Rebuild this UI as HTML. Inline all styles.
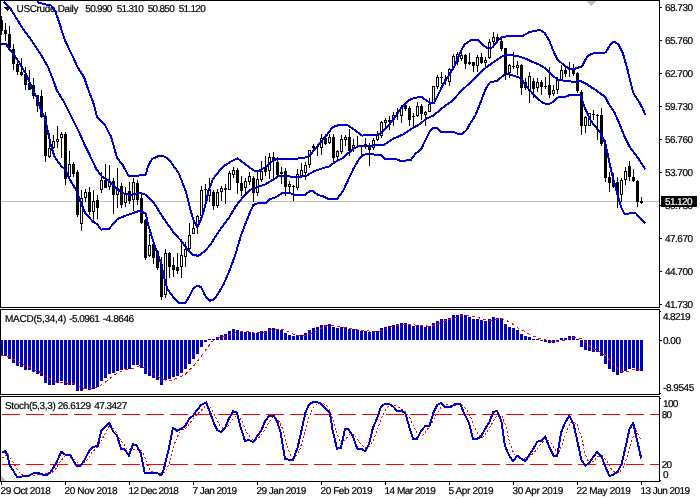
<!DOCTYPE html><html><head><meta charset="utf-8"><title>USCrude Daily</title>
<style>html,body{margin:0;padding:0;background:#fff}svg{display:block}text{font-family:"Liberation Sans",sans-serif;font-size:10px;fill:#000;stroke:#000;stroke-width:0.2px;text-rendering:geometricPrecision}</style></head><body>
<svg width="700" height="500" viewBox="0 0 700 500">
<rect width="700" height="500" fill="#fff"/>
<g shape-rendering="crispEdges">
<rect x="1" y="201" width="659" height="1" fill="#c0c0c0"/>
<polygon points="587,1 596,1 591.5,6" fill="#c0c0c0"/>
<polygon points="1,476 1,481 6,481" fill="#c0c0c0"/>
<rect x="1" y="16" width="1" height="19" fill="#000"/>
<rect x="0" y="20" width="3" height="11" fill="#000"/>
<rect x="5" y="23" width="1" height="18" fill="#000"/>
<rect x="4" y="30" width="3" height="4" fill="#000"/>
<rect x="9" y="26" width="1" height="24" fill="#000"/>
<rect x="8" y="34" width="3" height="14" fill="#000"/>
<rect x="13" y="44" width="1" height="26" fill="#000"/>
<rect x="12" y="49" width="3" height="15" fill="#000"/>
<rect x="17" y="60" width="1" height="15" fill="#000"/>
<rect x="16" y="64" width="3" height="8" fill="#000"/>
<rect x="21" y="58" width="1" height="18" fill="#000"/>
<rect x="20" y="72" width="3" height="3" fill="#000"/>
<rect x="25" y="67" width="1" height="23" fill="#000"/>
<rect x="24" y="74" width="3" height="11" fill="#000"/>
<rect x="29" y="70" width="1" height="20" fill="#000"/>
<rect x="28" y="83" width="3" height="7" fill="#000"/>
<rect x="33" y="78" width="1" height="21" fill="#000"/>
<rect x="32" y="85" width="3" height="11" fill="#000"/>
<rect x="37" y="95" width="1" height="17" fill="#000"/>
<rect x="36" y="95" width="3" height="11" fill="#000"/>
<rect x="41" y="90" width="1" height="28" fill="#000"/>
<rect x="40" y="96" width="3" height="21" fill="#000"/>
<rect x="45" y="112" width="1" height="50" fill="#000"/>
<rect x="44" y="116" width="3" height="40" fill="#000"/>
<rect x="49" y="133" width="1" height="25" fill="#000"/>
<rect x="48" y="148" width="3" height="9" fill="#000"/>
<rect x="49" y="149" width="1" height="7" fill="#fff"/>
<rect x="53" y="135" width="1" height="14" fill="#000"/>
<rect x="52" y="141" width="3" height="7" fill="#000"/>
<rect x="53" y="142" width="1" height="5" fill="#fff"/>
<rect x="57" y="126" width="1" height="22" fill="#000"/>
<rect x="56" y="139" width="3" height="3" fill="#000"/>
<rect x="57" y="140" width="1" height="1" fill="#fff"/>
<rect x="61" y="132" width="1" height="26" fill="#000"/>
<rect x="60" y="134" width="3" height="4" fill="#000"/>
<rect x="61" y="135" width="1" height="2" fill="#fff"/>
<rect x="65" y="132" width="1" height="53" fill="#000"/>
<rect x="64" y="134" width="3" height="45" fill="#000"/>
<rect x="69" y="151" width="1" height="28" fill="#000"/>
<rect x="68" y="164" width="3" height="13" fill="#000"/>
<rect x="69" y="165" width="1" height="11" fill="#fff"/>
<rect x="73" y="162" width="1" height="15" fill="#000"/>
<rect x="72" y="164" width="3" height="10" fill="#000"/>
<rect x="77" y="170" width="1" height="47" fill="#000"/>
<rect x="76" y="172" width="3" height="43" fill="#000"/>
<rect x="81" y="190" width="1" height="41" fill="#000"/>
<rect x="80" y="198" width="3" height="26" fill="#000"/>
<rect x="81" y="199" width="1" height="24" fill="#fff"/>
<rect x="85" y="189" width="1" height="13" fill="#000"/>
<rect x="84" y="192" width="3" height="6" fill="#000"/>
<rect x="85" y="193" width="1" height="4" fill="#fff"/>
<rect x="89" y="187" width="1" height="28" fill="#000"/>
<rect x="88" y="192" width="3" height="20" fill="#000"/>
<rect x="93" y="190" width="1" height="32" fill="#000"/>
<rect x="92" y="201" width="3" height="11" fill="#000"/>
<rect x="93" y="202" width="1" height="9" fill="#fff"/>
<rect x="97" y="195" width="1" height="24" fill="#000"/>
<rect x="96" y="200" width="3" height="8" fill="#000"/>
<rect x="101" y="172" width="1" height="21" fill="#000"/>
<rect x="100" y="180" width="3" height="10" fill="#000"/>
<rect x="101" y="181" width="1" height="8" fill="#fff"/>
<rect x="105" y="164" width="1" height="24" fill="#000"/>
<rect x="104" y="180" width="3" height="8" fill="#000"/>
<rect x="109" y="165" width="1" height="25" fill="#000"/>
<rect x="108" y="182" width="3" height="5" fill="#000"/>
<rect x="109" y="183" width="1" height="3" fill="#fff"/>
<rect x="113" y="178" width="1" height="36" fill="#000"/>
<rect x="112" y="181" width="3" height="14" fill="#000"/>
<rect x="117" y="168" width="1" height="40" fill="#000"/>
<rect x="116" y="190" width="3" height="5" fill="#000"/>
<rect x="117" y="191" width="1" height="3" fill="#fff"/>
<rect x="121" y="183" width="1" height="25" fill="#000"/>
<rect x="120" y="186" width="3" height="19" fill="#000"/>
<rect x="125" y="187" width="1" height="20" fill="#000"/>
<rect x="124" y="194" width="3" height="9" fill="#000"/>
<rect x="125" y="195" width="1" height="7" fill="#fff"/>
<rect x="129" y="182" width="1" height="22" fill="#000"/>
<rect x="128" y="191" width="3" height="10" fill="#000"/>
<rect x="133" y="178" width="1" height="33" fill="#000"/>
<rect x="132" y="182" width="3" height="18" fill="#000"/>
<rect x="133" y="183" width="1" height="16" fill="#fff"/>
<rect x="137" y="180" width="1" height="25" fill="#000"/>
<rect x="136" y="183" width="3" height="17" fill="#000"/>
<rect x="141" y="195" width="1" height="29" fill="#000"/>
<rect x="140" y="198" width="3" height="25" fill="#000"/>
<rect x="145" y="219" width="1" height="41" fill="#000"/>
<rect x="144" y="220" width="3" height="38" fill="#000"/>
<rect x="149" y="234" width="1" height="23" fill="#000"/>
<rect x="148" y="245" width="3" height="11" fill="#000"/>
<rect x="149" y="246" width="1" height="9" fill="#fff"/>
<rect x="153" y="243" width="1" height="21" fill="#000"/>
<rect x="152" y="244" width="3" height="14" fill="#000"/>
<rect x="157" y="250" width="1" height="20" fill="#000"/>
<rect x="156" y="251" width="3" height="17" fill="#000"/>
<rect x="161" y="257" width="1" height="43" fill="#000"/>
<rect x="160" y="264" width="3" height="33" fill="#000"/>
<rect x="165" y="249" width="1" height="49" fill="#000"/>
<rect x="164" y="253" width="3" height="42" fill="#000"/>
<rect x="165" y="254" width="1" height="40" fill="#fff"/>
<rect x="169" y="252" width="1" height="26" fill="#000"/>
<rect x="168" y="253" width="3" height="14" fill="#000"/>
<rect x="173" y="257" width="1" height="20" fill="#000"/>
<rect x="172" y="265" width="3" height="5" fill="#000"/>
<rect x="177" y="253" width="1" height="21" fill="#000"/>
<rect x="176" y="267" width="3" height="4" fill="#000"/>
<rect x="181" y="239" width="1" height="39" fill="#000"/>
<rect x="180" y="255" width="3" height="12" fill="#000"/>
<rect x="181" y="256" width="1" height="10" fill="#fff"/>
<rect x="185" y="242" width="1" height="25" fill="#000"/>
<rect x="184" y="249" width="3" height="8" fill="#000"/>
<rect x="185" y="250" width="1" height="6" fill="#fff"/>
<rect x="189" y="223" width="1" height="28" fill="#000"/>
<rect x="188" y="235" width="3" height="14" fill="#000"/>
<rect x="189" y="236" width="1" height="12" fill="#fff"/>
<rect x="193" y="218" width="1" height="16" fill="#000"/>
<rect x="192" y="228" width="3" height="6" fill="#000"/>
<rect x="193" y="229" width="1" height="4" fill="#fff"/>
<rect x="197" y="215" width="1" height="19" fill="#000"/>
<rect x="196" y="216" width="3" height="11" fill="#000"/>
<rect x="197" y="217" width="1" height="9" fill="#fff"/>
<rect x="201" y="186" width="1" height="30" fill="#000"/>
<rect x="200" y="190" width="3" height="26" fill="#000"/>
<rect x="201" y="191" width="1" height="24" fill="#fff"/>
<rect x="205" y="184" width="1" height="16" fill="#000"/>
<rect x="204" y="189" width="3" height="1" fill="#000"/>
<rect x="209" y="178" width="1" height="24" fill="#000"/>
<rect x="208" y="189" width="3" height="7" fill="#000"/>
<rect x="209" y="190" width="1" height="5" fill="#fff"/>
<rect x="213" y="190" width="1" height="20" fill="#000"/>
<rect x="212" y="192" width="3" height="14" fill="#000"/>
<rect x="217" y="189" width="1" height="19" fill="#000"/>
<rect x="216" y="192" width="3" height="14" fill="#000"/>
<rect x="217" y="193" width="1" height="12" fill="#fff"/>
<rect x="221" y="186" width="1" height="15" fill="#000"/>
<rect x="220" y="188" width="3" height="4" fill="#000"/>
<rect x="221" y="189" width="1" height="2" fill="#fff"/>
<rect x="225" y="184" width="1" height="20" fill="#000"/>
<rect x="224" y="188" width="3" height="2" fill="#000"/>
<rect x="229" y="171" width="1" height="19" fill="#000"/>
<rect x="228" y="173" width="3" height="17" fill="#000"/>
<rect x="229" y="174" width="1" height="15" fill="#fff"/>
<rect x="233" y="167" width="1" height="11" fill="#000"/>
<rect x="232" y="170" width="3" height="5" fill="#000"/>
<rect x="233" y="171" width="1" height="3" fill="#fff"/>
<rect x="237" y="168" width="1" height="26" fill="#000"/>
<rect x="236" y="170" width="3" height="13" fill="#000"/>
<rect x="241" y="176" width="1" height="20" fill="#000"/>
<rect x="240" y="183" width="3" height="8" fill="#000"/>
<rect x="245" y="178" width="1" height="15" fill="#000"/>
<rect x="244" y="181" width="3" height="7" fill="#000"/>
<rect x="245" y="182" width="1" height="5" fill="#fff"/>
<rect x="249" y="172" width="1" height="13" fill="#000"/>
<rect x="248" y="176" width="3" height="6" fill="#000"/>
<rect x="249" y="177" width="1" height="4" fill="#fff"/>
<rect x="253" y="176" width="1" height="26" fill="#000"/>
<rect x="252" y="178" width="3" height="15" fill="#000"/>
<rect x="257" y="172" width="1" height="24" fill="#000"/>
<rect x="256" y="179" width="3" height="14" fill="#000"/>
<rect x="257" y="180" width="1" height="12" fill="#fff"/>
<rect x="261" y="161" width="1" height="21" fill="#000"/>
<rect x="260" y="171" width="3" height="9" fill="#000"/>
<rect x="261" y="172" width="1" height="7" fill="#fff"/>
<rect x="265" y="156" width="1" height="20" fill="#000"/>
<rect x="264" y="168" width="3" height="4" fill="#000"/>
<rect x="269" y="153" width="1" height="26" fill="#000"/>
<rect x="268" y="157" width="3" height="14" fill="#000"/>
<rect x="269" y="158" width="1" height="12" fill="#fff"/>
<rect x="273" y="152" width="1" height="27" fill="#000"/>
<rect x="272" y="157" width="3" height="3" fill="#000"/>
<rect x="277" y="157" width="1" height="19" fill="#000"/>
<rect x="276" y="162" width="3" height="13" fill="#000"/>
<rect x="281" y="167" width="1" height="17" fill="#000"/>
<rect x="280" y="172" width="3" height="2" fill="#000"/>
<rect x="285" y="168" width="1" height="28" fill="#000"/>
<rect x="284" y="171" width="3" height="16" fill="#000"/>
<rect x="289" y="181" width="1" height="13" fill="#000"/>
<rect x="288" y="184" width="3" height="3" fill="#000"/>
<rect x="289" y="185" width="1" height="1" fill="#fff"/>
<rect x="293" y="185" width="1" height="16" fill="#000"/>
<rect x="292" y="186" width="3" height="1" fill="#000"/>
<rect x="297" y="169" width="1" height="21" fill="#000"/>
<rect x="296" y="174" width="3" height="14" fill="#000"/>
<rect x="297" y="175" width="1" height="12" fill="#fff"/>
<rect x="301" y="163" width="1" height="15" fill="#000"/>
<rect x="300" y="170" width="3" height="7" fill="#000"/>
<rect x="301" y="171" width="1" height="5" fill="#fff"/>
<rect x="305" y="162" width="1" height="18" fill="#000"/>
<rect x="304" y="165" width="3" height="8" fill="#000"/>
<rect x="305" y="166" width="1" height="6" fill="#fff"/>
<rect x="309" y="150" width="1" height="18" fill="#000"/>
<rect x="308" y="150" width="3" height="15" fill="#000"/>
<rect x="309" y="151" width="1" height="13" fill="#fff"/>
<rect x="313" y="144" width="1" height="7" fill="#000"/>
<rect x="312" y="146" width="3" height="2" fill="#000"/>
<rect x="317" y="145" width="1" height="11" fill="#000"/>
<rect x="316" y="146" width="3" height="1" fill="#000"/>
<rect x="321" y="134" width="1" height="21" fill="#000"/>
<rect x="320" y="138" width="3" height="10" fill="#000"/>
<rect x="321" y="139" width="1" height="8" fill="#fff"/>
<rect x="325" y="134" width="1" height="11" fill="#000"/>
<rect x="324" y="138" width="3" height="6" fill="#000"/>
<rect x="329" y="134" width="1" height="10" fill="#000"/>
<rect x="328" y="137" width="3" height="6" fill="#000"/>
<rect x="329" y="138" width="1" height="4" fill="#fff"/>
<rect x="333" y="134" width="1" height="28" fill="#000"/>
<rect x="332" y="137" width="3" height="21" fill="#000"/>
<rect x="337" y="150" width="1" height="10" fill="#000"/>
<rect x="336" y="151" width="3" height="6" fill="#000"/>
<rect x="337" y="152" width="1" height="4" fill="#fff"/>
<rect x="341" y="135" width="1" height="19" fill="#000"/>
<rect x="340" y="139" width="3" height="13" fill="#000"/>
<rect x="341" y="140" width="1" height="11" fill="#fff"/>
<rect x="345" y="135" width="1" height="11" fill="#000"/>
<rect x="344" y="137" width="3" height="3" fill="#000"/>
<rect x="345" y="138" width="1" height="1" fill="#fff"/>
<rect x="349" y="129" width="1" height="27" fill="#000"/>
<rect x="348" y="137" width="3" height="14" fill="#000"/>
<rect x="353" y="139" width="1" height="13" fill="#000"/>
<rect x="352" y="145" width="3" height="3" fill="#000"/>
<rect x="353" y="146" width="1" height="1" fill="#fff"/>
<rect x="357" y="136" width="1" height="11" fill="#000"/>
<rect x="356" y="146" width="3" height="1" fill="#000"/>
<rect x="361" y="145" width="1" height="11" fill="#000"/>
<rect x="360" y="146" width="3" height="1" fill="#000"/>
<rect x="365" y="138" width="1" height="11" fill="#000"/>
<rect x="364" y="144" width="3" height="3" fill="#000"/>
<rect x="365" y="145" width="1" height="1" fill="#fff"/>
<rect x="369" y="143" width="1" height="23" fill="#000"/>
<rect x="368" y="145" width="3" height="5" fill="#000"/>
<rect x="373" y="138" width="1" height="12" fill="#000"/>
<rect x="372" y="140" width="3" height="8" fill="#000"/>
<rect x="373" y="141" width="1" height="6" fill="#fff"/>
<rect x="377" y="131" width="1" height="10" fill="#000"/>
<rect x="376" y="135" width="3" height="5" fill="#000"/>
<rect x="377" y="136" width="1" height="3" fill="#fff"/>
<rect x="381" y="121" width="1" height="17" fill="#000"/>
<rect x="380" y="122" width="3" height="14" fill="#000"/>
<rect x="381" y="123" width="1" height="12" fill="#fff"/>
<rect x="385" y="118" width="1" height="9" fill="#000"/>
<rect x="384" y="120" width="3" height="3" fill="#000"/>
<rect x="385" y="121" width="1" height="1" fill="#fff"/>
<rect x="389" y="116" width="1" height="14" fill="#000"/>
<rect x="388" y="120" width="3" height="2" fill="#000"/>
<rect x="393" y="112" width="1" height="14" fill="#000"/>
<rect x="392" y="115" width="3" height="5" fill="#000"/>
<rect x="393" y="116" width="1" height="3" fill="#fff"/>
<rect x="397" y="108" width="1" height="12" fill="#000"/>
<rect x="396" y="112" width="3" height="2" fill="#000"/>
<rect x="401" y="105" width="1" height="18" fill="#000"/>
<rect x="400" y="108" width="3" height="8" fill="#000"/>
<rect x="401" y="109" width="1" height="6" fill="#fff"/>
<rect x="405" y="102" width="1" height="9" fill="#000"/>
<rect x="404" y="105" width="3" height="4" fill="#000"/>
<rect x="409" y="106" width="1" height="20" fill="#000"/>
<rect x="408" y="108" width="3" height="12" fill="#000"/>
<rect x="413" y="113" width="1" height="14" fill="#000"/>
<rect x="412" y="116" width="3" height="1" fill="#000"/>
<rect x="417" y="102" width="1" height="15" fill="#000"/>
<rect x="416" y="106" width="3" height="10" fill="#000"/>
<rect x="417" y="107" width="1" height="8" fill="#fff"/>
<rect x="421" y="104" width="1" height="16" fill="#000"/>
<rect x="420" y="106" width="3" height="8" fill="#000"/>
<rect x="425" y="111" width="1" height="15" fill="#000"/>
<rect x="424" y="112" width="3" height="3" fill="#000"/>
<rect x="425" y="113" width="1" height="1" fill="#fff"/>
<rect x="429" y="98" width="1" height="14" fill="#000"/>
<rect x="428" y="104" width="3" height="8" fill="#000"/>
<rect x="429" y="105" width="1" height="6" fill="#fff"/>
<rect x="433" y="86" width="1" height="17" fill="#000"/>
<rect x="432" y="86" width="3" height="17" fill="#000"/>
<rect x="433" y="87" width="1" height="15" fill="#fff"/>
<rect x="437" y="75" width="1" height="14" fill="#000"/>
<rect x="436" y="77" width="3" height="10" fill="#000"/>
<rect x="437" y="78" width="1" height="8" fill="#fff"/>
<rect x="441" y="72" width="1" height="12" fill="#000"/>
<rect x="440" y="77" width="3" height="1" fill="#000"/>
<rect x="445" y="75" width="1" height="10" fill="#000"/>
<rect x="444" y="79" width="3" height="1" fill="#000"/>
<rect x="449" y="68" width="1" height="18" fill="#000"/>
<rect x="448" y="69" width="3" height="13" fill="#000"/>
<rect x="449" y="70" width="1" height="11" fill="#fff"/>
<rect x="453" y="54" width="1" height="16" fill="#000"/>
<rect x="452" y="56" width="3" height="12" fill="#000"/>
<rect x="453" y="57" width="1" height="10" fill="#fff"/>
<rect x="457" y="52" width="1" height="13" fill="#000"/>
<rect x="456" y="54" width="3" height="8" fill="#000"/>
<rect x="457" y="55" width="1" height="6" fill="#fff"/>
<rect x="461" y="52" width="1" height="9" fill="#000"/>
<rect x="460" y="55" width="3" height="4" fill="#000"/>
<rect x="461" y="56" width="1" height="2" fill="#fff"/>
<rect x="465" y="54" width="1" height="15" fill="#000"/>
<rect x="464" y="55" width="3" height="9" fill="#000"/>
<rect x="469" y="53" width="1" height="12" fill="#000"/>
<rect x="468" y="62" width="3" height="2" fill="#000"/>
<rect x="473" y="62" width="1" height="10" fill="#000"/>
<rect x="472" y="62" width="3" height="4" fill="#000"/>
<rect x="477" y="55" width="1" height="17" fill="#000"/>
<rect x="476" y="57" width="3" height="9" fill="#000"/>
<rect x="477" y="58" width="1" height="7" fill="#fff"/>
<rect x="481" y="53" width="1" height="11" fill="#000"/>
<rect x="480" y="57" width="3" height="6" fill="#000"/>
<rect x="485" y="57" width="1" height="10" fill="#000"/>
<rect x="484" y="60" width="3" height="3" fill="#000"/>
<rect x="485" y="61" width="1" height="1" fill="#fff"/>
<rect x="489" y="39" width="1" height="20" fill="#000"/>
<rect x="488" y="42" width="3" height="16" fill="#000"/>
<rect x="489" y="43" width="1" height="14" fill="#fff"/>
<rect x="493" y="32" width="1" height="12" fill="#000"/>
<rect x="492" y="37" width="3" height="5" fill="#000"/>
<rect x="493" y="38" width="1" height="3" fill="#fff"/>
<rect x="497" y="34" width="1" height="8" fill="#000"/>
<rect x="496" y="37" width="3" height="4" fill="#000"/>
<rect x="501" y="37" width="1" height="14" fill="#000"/>
<rect x="500" y="41" width="3" height="8" fill="#000"/>
<rect x="505" y="48" width="1" height="32" fill="#000"/>
<rect x="504" y="48" width="3" height="25" fill="#000"/>
<rect x="509" y="64" width="1" height="14" fill="#000"/>
<rect x="508" y="65" width="3" height="8" fill="#000"/>
<rect x="509" y="66" width="1" height="6" fill="#fff"/>
<rect x="513" y="52" width="1" height="17" fill="#000"/>
<rect x="512" y="66" width="3" height="1" fill="#000"/>
<rect x="517" y="61" width="1" height="14" fill="#000"/>
<rect x="516" y="65" width="3" height="3" fill="#000"/>
<rect x="517" y="66" width="1" height="1" fill="#fff"/>
<rect x="521" y="64" width="1" height="31" fill="#000"/>
<rect x="520" y="65" width="3" height="23" fill="#000"/>
<rect x="525" y="78" width="1" height="12" fill="#000"/>
<rect x="524" y="82" width="3" height="6" fill="#000"/>
<rect x="525" y="83" width="1" height="4" fill="#fff"/>
<rect x="529" y="72" width="1" height="31" fill="#000"/>
<rect x="528" y="76" width="3" height="15" fill="#000"/>
<rect x="529" y="77" width="1" height="13" fill="#fff"/>
<rect x="533" y="78" width="1" height="20" fill="#000"/>
<rect x="532" y="81" width="3" height="8" fill="#000"/>
<rect x="537" y="78" width="1" height="14" fill="#000"/>
<rect x="536" y="82" width="3" height="6" fill="#000"/>
<rect x="537" y="83" width="1" height="4" fill="#fff"/>
<rect x="541" y="80" width="1" height="15" fill="#000"/>
<rect x="540" y="82" width="3" height="5" fill="#000"/>
<rect x="545" y="77" width="1" height="12" fill="#000"/>
<rect x="544" y="86" width="3" height="1" fill="#000"/>
<rect x="549" y="67" width="1" height="31" fill="#000"/>
<rect x="548" y="85" width="3" height="10" fill="#000"/>
<rect x="553" y="85" width="1" height="11" fill="#000"/>
<rect x="552" y="90" width="3" height="4" fill="#000"/>
<rect x="553" y="91" width="1" height="2" fill="#fff"/>
<rect x="557" y="77" width="1" height="17" fill="#000"/>
<rect x="556" y="80" width="3" height="10" fill="#000"/>
<rect x="557" y="81" width="1" height="8" fill="#fff"/>
<rect x="561" y="65" width="1" height="16" fill="#000"/>
<rect x="560" y="70" width="3" height="10" fill="#000"/>
<rect x="561" y="71" width="1" height="8" fill="#fff"/>
<rect x="565" y="67" width="1" height="10" fill="#000"/>
<rect x="564" y="70" width="3" height="4" fill="#000"/>
<rect x="569" y="62" width="1" height="15" fill="#000"/>
<rect x="568" y="68" width="3" height="2" fill="#000"/>
<rect x="573" y="64" width="1" height="12" fill="#000"/>
<rect x="572" y="70" width="3" height="4" fill="#000"/>
<rect x="577" y="72" width="1" height="21" fill="#000"/>
<rect x="576" y="73" width="3" height="18" fill="#000"/>
<rect x="581" y="90" width="1" height="45" fill="#000"/>
<rect x="580" y="92" width="3" height="34" fill="#000"/>
<rect x="585" y="116" width="1" height="17" fill="#000"/>
<rect x="584" y="117" width="3" height="9" fill="#000"/>
<rect x="585" y="118" width="1" height="7" fill="#fff"/>
<rect x="589" y="113" width="1" height="13" fill="#000"/>
<rect x="588" y="113" width="3" height="13" fill="#000"/>
<rect x="589" y="114" width="1" height="11" fill="#fff"/>
<rect x="593" y="110" width="1" height="10" fill="#000"/>
<rect x="592" y="114" width="3" height="1" fill="#000"/>
<rect x="597" y="114" width="1" height="26" fill="#000"/>
<rect x="596" y="115" width="3" height="1" fill="#000"/>
<rect x="601" y="108" width="1" height="38" fill="#000"/>
<rect x="600" y="115" width="3" height="29" fill="#000"/>
<rect x="605" y="140" width="1" height="42" fill="#000"/>
<rect x="604" y="144" width="3" height="34" fill="#000"/>
<rect x="609" y="172" width="1" height="20" fill="#000"/>
<rect x="608" y="177" width="3" height="6" fill="#000"/>
<rect x="613" y="173" width="1" height="15" fill="#000"/>
<rect x="612" y="180" width="3" height="7" fill="#000"/>
<rect x="617" y="177" width="1" height="31" fill="#000"/>
<rect x="616" y="182" width="3" height="13" fill="#000"/>
<rect x="621" y="178" width="1" height="24" fill="#000"/>
<rect x="620" y="180" width="3" height="15" fill="#000"/>
<rect x="621" y="181" width="1" height="13" fill="#fff"/>
<rect x="625" y="167" width="1" height="18" fill="#000"/>
<rect x="624" y="171" width="3" height="9" fill="#000"/>
<rect x="625" y="172" width="1" height="7" fill="#fff"/>
<rect x="629" y="161" width="1" height="20" fill="#000"/>
<rect x="628" y="166" width="3" height="11" fill="#000"/>
<rect x="633" y="169" width="1" height="13" fill="#000"/>
<rect x="632" y="177" width="3" height="4" fill="#000"/>
<rect x="637" y="180" width="1" height="27" fill="#000"/>
<rect x="636" y="181" width="3" height="21" fill="#000"/>
<rect x="641" y="197" width="1" height="7" fill="#000"/>
<rect x="640" y="201" width="3" height="2" fill="#000"/>
</g>
<text x="16.5" y="12" textLength="62" lengthAdjust="spacing">USCrude,Daily</text>
<text x="85.3" y="12" textLength="27" lengthAdjust="spacing">50.990</text>
<text x="116.7" y="12" textLength="27" lengthAdjust="spacing">51.310</text>
<text x="147.7" y="12" textLength="27" lengthAdjust="spacing">50.850</text>
<text x="178.7" y="12" textLength="27" lengthAdjust="spacing">51.120</text>
<g shape-rendering="crispEdges" stroke-linejoin="round">
<polyline points="36.8,1.9 43.2,4.0 51.2,5.6 55.2,11.2 59.2,22.4 63.2,35.2 64.8,40.0 72.0,55.0 78.0,68.0 84.0,77.0 88.4,90.0 93.4,103.0 97.0,116.7 105.0,125.3 110.7,136.0 113.5,145.0 117.0,158.0 122.9,165.2 128.6,176.0 136.5,175.7 145.6,175.0 148.0,166.4 152.0,159.0 158.7,156.0 165.0,156.6 170.0,160.7 179.0,173.8 185.7,191.0 189.8,207.4 193.0,218.9 197.2,227.0 200.5,220.5 202.9,213.7 204.6,207.4 207.2,197.9 208.0,191.9 213.0,178.9 218.7,171.7 225.2,165.2 231.0,161.6 237.5,158.4 241.8,161.6 247.6,166.0 254.0,170.5 259.8,170.5 266.3,166.7 272.0,161.6 276.4,159.0 286.5,158.7 297.3,158.6 307.4,157.2 311.7,153.0 318.8,144.5 326.0,135.9 332.5,127.2 339.0,125.0 347.6,125.3 354.8,130.0 362.0,135.6 370.7,135.0 379.3,134.4 385.8,128.7 393.0,120.0 401.6,107.5 408.8,100.3 414.6,97.7 421.8,97.0 426.0,100.3 430.4,103.0 434.0,102.9 437.6,95.9 443.4,83.7 449.2,75.0 454.4,66.0 460.2,52.4 464.5,44.5 471.7,39.8 477.5,39.8 483.2,45.2 488.3,48.8 492.6,47.3 497.6,40.9 502.0,36.8 512.0,36.0 523.0,35.7 530.0,31.8 540.2,30.0 544.8,33.0 549.4,41.0 554.0,52.5 557.5,59.4 563.2,64.5 569.0,68.7 574.8,68.7 582.0,66.4 586.2,58.3 589.2,55.0 595.0,52.9 605.7,52.5 610.3,44.5 613.8,41.5 618.4,44.5 623.0,53.7 627.6,69.8 632.2,89.3 634.4,95.0 638.9,101.5 642.8,108.7 645.2,115.2" fill="none" stroke="#0000CD" stroke-width="2" />
<polyline points="4.0,1.6 9.6,7.2 16.0,17.6 24.0,30.4 31.2,40.0 40.0,53.0 48.0,67.0 54.0,82.0 56.7,90.0 64.6,103.0 71.8,117.4 79.0,131.8 84.7,145.0 90.4,156.5 96.2,168.8 102.0,176.7 109.2,181.0 116.4,188.2 123.6,193.3 130.0,195.0 139.8,193.0 146.4,195.0 154.6,204.0 162.8,217.2 173.2,232.0 180.4,240.0 187.6,249.3 193.4,255.0 198.4,255.8 205.0,251.2 210.7,244.2 214.4,238.2 221.6,227.4 228.8,218.0 236.0,205.8 241.8,198.6 246.0,194.0 250.4,189.7 257.6,186.8 264.8,184.7 272.0,180.3 278.5,176.3 286.5,175.7 292.2,177.0 298.7,176.7 306.0,176.0 314.6,170.9 323.2,168.0 329.0,166.6 334.8,162.2 342.0,158.6 347.7,153.6 353.4,148.8 359.2,145.9 370.7,145.6 384.4,144.6 393.0,138.8 403.0,134.5 411.8,128.7 420.4,123.7 426.2,118.6 433.4,115.6 442.0,108.2 452.0,101.0 462.0,90.2 472.2,80.8 476.0,76.9 486.0,67.5 496.2,60.3 502.0,56.4 507.7,55.0 517.8,56.0 526.5,58.9 533.7,62.5 538.7,64.4 546.0,68.7 553.0,75.9 558.2,80.0 567.6,81.0 574.8,82.0 580.5,81.0 586.3,83.9 595.0,89.6 605.0,96.8 609.3,104.8 614.2,111.9 619.4,123.6 624.6,136.6 629.8,147.0 638.0,157.9 645.3,169.3" fill="none" stroke="#0000CD" stroke-width="2" />
<polyline points="1.0,44.0 6.0,44.0 10.0,50.0 15.0,56.0 20.0,64.0 26.0,74.0 32.0,88.0 37.2,98.6 41.5,111.6 45.0,118.0 47.3,129.0 50.8,145.0 54.4,156.5 61.6,166.6 65.2,168.8 68.8,178.0 76.0,189.7 80.3,201.2 85.2,213.0 93.0,221.7 97.5,224.5 101.0,229.6 109.0,228.9 117.6,218.8 129.0,214.5 139.8,210.7 145.7,213.5 147.9,223.8 152.2,238.2 155.0,246.4 161.0,263.0 164.6,279.5 167.5,289.0 173.0,296.8 179.0,303.0 185.5,303.0 189.0,296.8 193.4,288.0 197.7,285.6 201.3,287.5 205.0,295.4 209.3,300.7 213.6,300.0 218.0,294.0 223.7,283.9 230.0,269.5 236.0,252.6 241.0,235.3 245.4,223.8 249.7,213.0 253.3,205.0 257.6,203.2 266.3,203.0 269.9,199.2 276.4,197.0 282.0,193.0 290.0,193.2 294.4,195.0 304.5,195.0 310.3,191.0 313.0,191.0 317.5,194.7 323.2,196.4 328.3,199.0 337.0,199.0 343.4,190.3 347.7,181.0 353.5,168.7 359.3,158.4 362.9,155.0 367.9,154.0 380.8,155.0 385.0,158.7 396.0,159.0 400.0,160.7 404.6,160.7 411.0,159.7 416.0,153.2 421.0,149.6 425.5,140.0 429.8,131.6 432.7,128.0 437.0,128.0 441.3,131.9 453.6,132.0 457.9,133.8 462.2,133.8 466.5,130.2 470.0,123.7 475.0,116.0 480.0,103.9 482.5,97.0 486.0,88.4 489.7,82.6 497.6,80.5 504.8,74.0 510.6,74.7 520.7,78.0 527.2,87.5 535.9,96.8 543.0,103.3 548.8,104.0 553.0,101.9 558.2,97.3 566.0,96.5 569.7,95.0 580.5,95.0 584.3,106.7 589.5,118.4 593.4,124.3 599.9,132.0 605.0,142.5 607.0,150.9 610.0,165.5 614.2,182.5 617.6,194.4 621.0,207.2 624.4,214.0 629.5,213.5 635.5,213.0 639.7,217.4 645.3,223.3" fill="none" stroke="#0000CD" stroke-width="2" />
</g>
<g shape-rendering="crispEdges">
<rect x="0" y="340" width="3" height="15" fill="#0000CD"/>
<rect x="4" y="340" width="3" height="16" fill="#0000CD"/>
<rect x="8" y="340" width="3" height="19" fill="#0000CD"/>
<rect x="12" y="340" width="3" height="23" fill="#0000CD"/>
<rect x="16" y="340" width="3" height="26" fill="#0000CD"/>
<rect x="20" y="340" width="3" height="27" fill="#0000CD"/>
<rect x="24" y="340" width="3" height="30" fill="#0000CD"/>
<rect x="28" y="340" width="3" height="30" fill="#0000CD"/>
<rect x="32" y="340" width="3" height="32" fill="#0000CD"/>
<rect x="36" y="340" width="3" height="34" fill="#0000CD"/>
<rect x="40" y="340" width="3" height="36" fill="#0000CD"/>
<rect x="44" y="340" width="3" height="43" fill="#0000CD"/>
<rect x="48" y="340" width="3" height="45" fill="#0000CD"/>
<rect x="52" y="340" width="3" height="45" fill="#0000CD"/>
<rect x="56" y="340" width="3" height="43" fill="#0000CD"/>
<rect x="60" y="340" width="3" height="41" fill="#0000CD"/>
<rect x="64" y="340" width="3" height="45" fill="#0000CD"/>
<rect x="68" y="340" width="3" height="45" fill="#0000CD"/>
<rect x="72" y="340" width="3" height="45" fill="#0000CD"/>
<rect x="76" y="340" width="3" height="51" fill="#0000CD"/>
<rect x="80" y="340" width="3" height="51" fill="#0000CD"/>
<rect x="84" y="340" width="3" height="49" fill="#0000CD"/>
<rect x="88" y="340" width="3" height="50" fill="#0000CD"/>
<rect x="92" y="340" width="3" height="49" fill="#0000CD"/>
<rect x="96" y="340" width="3" height="47" fill="#0000CD"/>
<rect x="100" y="340" width="3" height="41" fill="#0000CD"/>
<rect x="104" y="340" width="3" height="38" fill="#0000CD"/>
<rect x="108" y="340" width="3" height="34" fill="#0000CD"/>
<rect x="112" y="340" width="3" height="33" fill="#0000CD"/>
<rect x="116" y="340" width="3" height="31" fill="#0000CD"/>
<rect x="120" y="340" width="3" height="30" fill="#0000CD"/>
<rect x="124" y="340" width="3" height="29" fill="#0000CD"/>
<rect x="128" y="340" width="3" height="29" fill="#0000CD"/>
<rect x="132" y="340" width="3" height="25" fill="#0000CD"/>
<rect x="136" y="340" width="3" height="25" fill="#0000CD"/>
<rect x="140" y="340" width="3" height="28" fill="#0000CD"/>
<rect x="144" y="340" width="3" height="34" fill="#0000CD"/>
<rect x="148" y="340" width="3" height="36" fill="#0000CD"/>
<rect x="152" y="340" width="3" height="38" fill="#0000CD"/>
<rect x="156" y="340" width="3" height="40" fill="#0000CD"/>
<rect x="160" y="340" width="3" height="45" fill="#0000CD"/>
<rect x="164" y="340" width="3" height="40" fill="#0000CD"/>
<rect x="168" y="340" width="3" height="39" fill="#0000CD"/>
<rect x="172" y="340" width="3" height="37" fill="#0000CD"/>
<rect x="176" y="340" width="3" height="36" fill="#0000CD"/>
<rect x="180" y="340" width="3" height="33" fill="#0000CD"/>
<rect x="184" y="340" width="3" height="29" fill="#0000CD"/>
<rect x="188" y="340" width="3" height="24" fill="#0000CD"/>
<rect x="192" y="340" width="3" height="19" fill="#0000CD"/>
<rect x="196" y="340" width="3" height="14" fill="#0000CD"/>
<rect x="200" y="340" width="3" height="7" fill="#0000CD"/>
<rect x="204" y="340" width="3" height="2" fill="#0000CD"/>
<rect x="208" y="339" width="3" height="1" fill="#0000CD"/>
<rect x="212" y="339" width="3" height="1" fill="#0000CD"/>
<rect x="216" y="337" width="3" height="3" fill="#0000CD"/>
<rect x="220" y="335" width="3" height="5" fill="#0000CD"/>
<rect x="224" y="334" width="3" height="6" fill="#0000CD"/>
<rect x="228" y="331" width="3" height="9" fill="#0000CD"/>
<rect x="232" y="329" width="3" height="11" fill="#0000CD"/>
<rect x="236" y="330" width="3" height="10" fill="#0000CD"/>
<rect x="240" y="332" width="3" height="8" fill="#0000CD"/>
<rect x="244" y="332" width="3" height="8" fill="#0000CD"/>
<rect x="248" y="332" width="3" height="8" fill="#0000CD"/>
<rect x="252" y="333" width="3" height="7" fill="#0000CD"/>
<rect x="256" y="333" width="3" height="7" fill="#0000CD"/>
<rect x="260" y="331" width="3" height="9" fill="#0000CD"/>
<rect x="264" y="331" width="3" height="9" fill="#0000CD"/>
<rect x="268" y="328" width="3" height="12" fill="#0000CD"/>
<rect x="272" y="328" width="3" height="12" fill="#0000CD"/>
<rect x="276" y="329" width="3" height="11" fill="#0000CD"/>
<rect x="280" y="330" width="3" height="10" fill="#0000CD"/>
<rect x="284" y="333" width="3" height="7" fill="#0000CD"/>
<rect x="288" y="335" width="3" height="5" fill="#0000CD"/>
<rect x="292" y="336" width="3" height="4" fill="#0000CD"/>
<rect x="296" y="335" width="3" height="5" fill="#0000CD"/>
<rect x="300" y="335" width="3" height="5" fill="#0000CD"/>
<rect x="304" y="333" width="3" height="7" fill="#0000CD"/>
<rect x="308" y="330" width="3" height="10" fill="#0000CD"/>
<rect x="312" y="328" width="3" height="12" fill="#0000CD"/>
<rect x="316" y="327" width="3" height="13" fill="#0000CD"/>
<rect x="320" y="325" width="3" height="15" fill="#0000CD"/>
<rect x="324" y="325" width="3" height="15" fill="#0000CD"/>
<rect x="328" y="324" width="3" height="16" fill="#0000CD"/>
<rect x="332" y="327" width="3" height="13" fill="#0000CD"/>
<rect x="336" y="328" width="3" height="12" fill="#0000CD"/>
<rect x="340" y="327" width="3" height="13" fill="#0000CD"/>
<rect x="344" y="327" width="3" height="13" fill="#0000CD"/>
<rect x="348" y="329" width="3" height="11" fill="#0000CD"/>
<rect x="352" y="329" width="3" height="11" fill="#0000CD"/>
<rect x="356" y="330" width="3" height="10" fill="#0000CD"/>
<rect x="360" y="331" width="3" height="9" fill="#0000CD"/>
<rect x="364" y="331" width="3" height="9" fill="#0000CD"/>
<rect x="368" y="332" width="3" height="8" fill="#0000CD"/>
<rect x="372" y="331" width="3" height="9" fill="#0000CD"/>
<rect x="376" y="331" width="3" height="9" fill="#0000CD"/>
<rect x="380" y="328" width="3" height="12" fill="#0000CD"/>
<rect x="384" y="327" width="3" height="13" fill="#0000CD"/>
<rect x="388" y="326" width="3" height="14" fill="#0000CD"/>
<rect x="392" y="325" width="3" height="15" fill="#0000CD"/>
<rect x="396" y="324" width="3" height="16" fill="#0000CD"/>
<rect x="400" y="323" width="3" height="17" fill="#0000CD"/>
<rect x="404" y="323" width="3" height="17" fill="#0000CD"/>
<rect x="408" y="325" width="3" height="15" fill="#0000CD"/>
<rect x="412" y="326" width="3" height="14" fill="#0000CD"/>
<rect x="416" y="325" width="3" height="15" fill="#0000CD"/>
<rect x="420" y="326" width="3" height="14" fill="#0000CD"/>
<rect x="424" y="327" width="3" height="13" fill="#0000CD"/>
<rect x="428" y="326" width="3" height="14" fill="#0000CD"/>
<rect x="432" y="323" width="3" height="17" fill="#0000CD"/>
<rect x="436" y="321" width="3" height="19" fill="#0000CD"/>
<rect x="440" y="319" width="3" height="21" fill="#0000CD"/>
<rect x="444" y="319" width="3" height="21" fill="#0000CD"/>
<rect x="448" y="318" width="3" height="22" fill="#0000CD"/>
<rect x="452" y="315" width="3" height="25" fill="#0000CD"/>
<rect x="456" y="315" width="3" height="25" fill="#0000CD"/>
<rect x="460" y="314" width="3" height="26" fill="#0000CD"/>
<rect x="464" y="315" width="3" height="25" fill="#0000CD"/>
<rect x="468" y="317" width="3" height="23" fill="#0000CD"/>
<rect x="472" y="319" width="3" height="21" fill="#0000CD"/>
<rect x="476" y="319" width="3" height="21" fill="#0000CD"/>
<rect x="480" y="320" width="3" height="20" fill="#0000CD"/>
<rect x="484" y="321" width="3" height="19" fill="#0000CD"/>
<rect x="488" y="319" width="3" height="21" fill="#0000CD"/>
<rect x="492" y="317" width="3" height="23" fill="#0000CD"/>
<rect x="496" y="318" width="3" height="22" fill="#0000CD"/>
<rect x="500" y="318" width="3" height="22" fill="#0000CD"/>
<rect x="504" y="324" width="3" height="16" fill="#0000CD"/>
<rect x="508" y="327" width="3" height="13" fill="#0000CD"/>
<rect x="512" y="328" width="3" height="12" fill="#0000CD"/>
<rect x="516" y="330" width="3" height="10" fill="#0000CD"/>
<rect x="520" y="334" width="3" height="6" fill="#0000CD"/>
<rect x="524" y="336" width="3" height="4" fill="#0000CD"/>
<rect x="528" y="337" width="3" height="3" fill="#0000CD"/>
<rect x="532" y="339" width="3" height="1" fill="#0000CD"/>
<rect x="536" y="339" width="3" height="1" fill="#0000CD"/>
<rect x="540" y="340" width="3" height="1" fill="#0000CD"/>
<rect x="544" y="340" width="3" height="2" fill="#0000CD"/>
<rect x="548" y="340" width="3" height="3" fill="#0000CD"/>
<rect x="552" y="340" width="3" height="3" fill="#0000CD"/>
<rect x="556" y="340" width="3" height="2" fill="#0000CD"/>
<rect x="560" y="338" width="3" height="2" fill="#0000CD"/>
<rect x="564" y="338" width="3" height="2" fill="#0000CD"/>
<rect x="568" y="336" width="3" height="4" fill="#0000CD"/>
<rect x="572" y="336" width="3" height="4" fill="#0000CD"/>
<rect x="576" y="339" width="3" height="1" fill="#0000CD"/>
<rect x="580" y="340" width="3" height="7" fill="#0000CD"/>
<rect x="584" y="340" width="3" height="10" fill="#0000CD"/>
<rect x="588" y="340" width="3" height="11" fill="#0000CD"/>
<rect x="592" y="340" width="3" height="12" fill="#0000CD"/>
<rect x="596" y="340" width="3" height="12" fill="#0000CD"/>
<rect x="600" y="340" width="3" height="16" fill="#0000CD"/>
<rect x="604" y="340" width="3" height="24" fill="#0000CD"/>
<rect x="608" y="340" width="3" height="29" fill="#0000CD"/>
<rect x="612" y="340" width="3" height="32" fill="#0000CD"/>
<rect x="616" y="340" width="3" height="35" fill="#0000CD"/>
<rect x="620" y="340" width="3" height="33" fill="#0000CD"/>
<rect x="624" y="340" width="3" height="31" fill="#0000CD"/>
<rect x="628" y="340" width="3" height="29" fill="#0000CD"/>
<rect x="632" y="340" width="3" height="28" fill="#0000CD"/>
<rect x="636" y="340" width="3" height="31" fill="#0000CD"/>
<rect x="640" y="340" width="3" height="31" fill="#0000CD"/>
<polyline points="1.0,355.0 10.5,357.3 19.4,362.6 26.4,366.0 35.2,370.0 44.0,374.0 51.0,380.2 58.0,382.8 65.0,382.8 74.0,384.0 81.0,387.2 86.3,389.0 93.3,388.6 98.6,386.3 105.6,382.0 110.0,378.4 117.0,373.0 125.8,369.6 132.9,368.7 140.0,365.7 147.0,368.7 154.0,374.0 161.0,378.4 166.3,380.5 171.6,380.5 178.7,377.5 185.7,374.0 192.7,367.0 199.8,358.2 206.8,348.5 212.0,341.5 217.4,338.3 224.4,336.4 231.4,334.4 237.6,331.4 244.6,331.2 255.2,332.3 262.3,332.6 267.5,331.8 272.8,329.0 279.9,329.0 286.0,330.5 292.2,333.5 297.5,335.8 302.7,335.8 309.8,334.0 316.0,330.9 322.0,327.9 328.3,325.6 334.4,325.6 338.8,326.5 345.8,327.4 352.9,328.8 363.5,330.5 370.5,331.2 379.3,331.2 386.3,328.8 393.4,326.0 400.4,325.0 407.5,324.4 414.5,325.0 423.3,325.6 430.4,326.5 435.6,324.7 442.7,322.0 447.0,320.0 454.0,318.2 461.0,316.0 466.4,315.4 471.7,316.0 477.0,317.2 484.0,319.4 491.0,320.3 496.3,319.4 501.6,318.6 507.0,320.7 514.0,325.0 519.2,328.8 526.3,332.3 531.5,335.3 536.8,337.6 543.9,339.5 548.8,340.9 555.8,341.5 562.9,340.9 568.2,338.8 574.3,337.0 580.5,338.3 585.8,342.3 591.0,347.6 597.2,350.6 603.4,353.8 608.7,359.0 614.0,365.2 619.2,370.0 625.4,372.6 631.5,369.6 637.7,369.6 642.0,370.0" fill="none" stroke="#ff0000" stroke-width="1" stroke-dasharray="3 3"/>
<line x1="2" y1="414.5" x2="659" y2="414.5" stroke="#ff0000" stroke-width="1" stroke-dasharray="18 6"/>
<line x1="2" y1="464.5" x2="659" y2="464.5" stroke="#ff0000" stroke-width="1" stroke-dasharray="18 6"/>
<polyline points="1.8,458.4 7.9,454.0 12.3,461.0 17.6,469.8 21.0,474.6 28.0,476.3 35.0,475.0 44.0,473.7 51.0,473.7 56.3,468.0 60.7,461.0 66.0,454.9 70.4,454.9 75.7,461.0 81.0,464.5 86.3,461.0 91.5,453.0 96.8,447.8 101.2,440.8 105.6,432.9 110.0,424.5 114.4,429.3 118.8,437.3 123.2,443.4 127.6,449.6 132.0,450.5 136.4,448.7 142.6,451.3 146.0,461.0 149.6,469.0 153.0,472.5 159.3,473.3 164.6,472.5 169.0,464.5 172.5,449.6 176.9,437.3 181.3,430.2 185.7,428.5 191.0,421.4 196.3,415.2 201.5,410.0 206.8,404.7 211.2,408.2 215.6,417.0 220.0,425.8 224.4,429.8 228.8,425.0 233.2,418.8 237.6,414.4 242.0,421.4 246.4,432.0 251.7,439.0 257.0,439.9 262.3,433.7 267.5,425.0 272.8,417.0 278.0,419.6 282.5,428.5 286.0,443.4 290.4,454.9 294.8,458.0 299.2,451.3 303.6,437.3 308.0,419.6 312.4,409.0 317.7,403.4 322.0,402.9 327.4,406.4 330.0,410.8 333.5,421.4 337.0,433.7 341.0,443.4 345.8,439.0 350.2,433.7 354.6,434.6 359.0,441.7 364.3,447.8 368.7,447.8 373.0,440.8 377.5,429.3 382.0,417.0 386.3,408.2 390.7,404.7 396.0,405.9 401.3,409.0 405.7,411.7 410.0,417.9 413.6,426.7 418.0,435.0 422.4,435.5 426.8,430.2 432.0,423.2 436.5,414.4 441.0,407.3 445.3,404.2 450.6,405.6 455.8,405.6 461.0,404.2 466.4,409.0 470.8,417.9 475.2,428.5 479.6,436.4 483.0,437.3 487.5,431.0 492.8,422.3 497.2,415.2 501.6,415.2 506.0,426.7 509.5,442.5 514.0,454.0 518.3,457.5 522.7,458.4 527.0,457.5 531.5,454.9 536.8,449.6 542.0,442.5 546.5,438.5 551.0,443.0 555.8,450.5 559.4,451.3 562.9,442.5 567.3,429.3 571.7,421.4 577.0,424.0 581.4,437.3 584.9,453.0 589.3,463.7 593.7,461.0 598.0,456.6 602.5,455.7 606.9,461.0 610.4,468.0 614.8,472.5 619.2,472.5 623.6,467.2 628.0,454.0 631.5,440.8 636.0,430.2 640.4,439.0" fill="none" stroke="#ff0000" stroke-width="1" stroke-dasharray="2 2"/>
<polyline points="1.8,452.2 5.3,451.3 7.0,454.0 9.7,465.4 13.2,470.7 17.0,476.9 21.0,476.9 24.6,475.6 29.0,475.6 34.3,472.8 37.9,472.8 42.3,474.6 47.5,474.6 51.0,471.6 56.3,462.8 61.3,451.7 66.0,455.2 70.4,455.2 74.0,461.9 77.0,466.3 81.0,465.4 85.4,458.4 89.0,451.3 93.3,446.9 97.7,446.0 101.2,431.0 105.3,426.7 109.2,422.8 113.5,432.0 117.0,435.5 121.0,448.7 125.0,449.6 129.0,455.7 132.9,444.3 136.4,445.2 140.8,453.0 144.7,473.3 153.0,473.3 156.7,472.5 161.0,475.6 163.7,469.8 169.0,447.8 173.0,427.6 176.9,431.0 181.3,428.5 184.8,426.7 189.2,418.8 193.0,415.8 197.0,410.0 201.5,404.7 206.0,402.4 209.5,410.8 213.9,423.2 217.4,430.2 221.3,432.0 225.3,427.6 228.8,418.8 233.2,411.2 236.7,412.3 241.0,428.5 245.0,441.0 249.0,439.9 253.5,442.2 257.0,436.4 261.4,430.2 265.4,420.5 269.3,415.8 273.7,415.8 277.2,421.4 280.7,432.9 285.0,458.7 289.5,459.8 293.0,459.8 297.5,447.8 301.0,432.9 305.4,412.6 308.9,404.7 312.4,402.4 316.8,402.0 321.2,403.8 325.6,408.2 330.0,413.5 332.6,430.2 337.0,448.7 341.0,447.8 345.0,428.8 348.5,429.3 352.9,436.4 357.3,448.7 360.8,448.7 365.2,451.0 369.0,444.3 373.0,427.6 377.2,417.9 381.0,406.4 385.0,403.8 389.0,403.8 393.0,406.4 396.9,410.8 401.3,410.8 405.4,413.5 409.2,426.7 413.0,438.7 417.0,438.7 421.2,431.0 425.0,426.3 429.5,425.8 433.5,412.6 437.4,404.7 441.3,402.9 445.3,407.0 450.6,407.0 455.8,403.8 460.2,404.2 464.6,414.4 469.0,423.2 473.0,438.7 477.0,438.7 480.8,436.9 484.9,429.3 489.3,422.3 493.3,411.7 497.2,411.2 501.3,420.5 505.0,446.0 509.2,455.7 513.0,461.0 517.5,455.7 521.3,458.7 525.4,461.0 529.4,454.9 533.3,448.7 537.4,441.7 541.6,440.8 545.3,436.4 549.2,447.0 553.7,455.7 557.3,455.7 561.0,432.9 565.2,422.3 569.4,415.8 573.5,424.0 577.3,440.8 581.4,460.0 585.4,465.8 589.3,462.8 593.3,457.0 597.2,451.7 601.6,456.6 605.5,467.2 609.5,476.0 613.6,474.6 617.5,471.6 621.5,464.5 625.4,447.8 629.4,429.3 633.3,422.8 637.4,441.7 641.2,458.5" fill="none" stroke="#0000CD" stroke-width="2" stroke-linejoin="round"/>
<rect x="0" y="0" width="660" height="1" fill="#000"/>
<rect x="0" y="0" width="1" height="308" fill="#000"/>
<rect x="0" y="307" width="660" height="1" fill="#000"/>
<rect x="659" y="0" width="1" height="308" fill="#000"/>
<rect x="0" y="309" width="660" height="1" fill="#000"/>
<rect x="0" y="309" width="1" height="86" fill="#000"/>
<rect x="0" y="394" width="660" height="1" fill="#000"/>
<rect x="659" y="309" width="1" height="86" fill="#000"/>
<rect x="0" y="396" width="660" height="1" fill="#000"/>
<rect x="0" y="396" width="1" height="86" fill="#000"/>
<rect x="0" y="481" width="660" height="1" fill="#000"/>
<rect x="659" y="396" width="1" height="86" fill="#000"/>
<rect x="660" y="7" width="2" height="1" fill="#000"/>
<rect x="660" y="40" width="2" height="1" fill="#000"/>
<rect x="660" y="73" width="2" height="1" fill="#000"/>
<rect x="660" y="106" width="2" height="1" fill="#000"/>
<rect x="660" y="139" width="2" height="1" fill="#000"/>
<rect x="660" y="172" width="2" height="1" fill="#000"/>
<rect x="660" y="205" width="2" height="1" fill="#000"/>
<rect x="660" y="238" width="2" height="1" fill="#000"/>
<rect x="660" y="271" width="2" height="1" fill="#000"/>
<rect x="660" y="304" width="2" height="1" fill="#000"/>
<rect x="660" y="311" width="1" height="1" fill="#000"/>
<rect x="660" y="340" width="2" height="1" fill="#000"/>
<rect x="660" y="393" width="1" height="1" fill="#000"/>
<rect x="660" y="398" width="1" height="1" fill="#000"/>
<rect x="660" y="480" width="1" height="1" fill="#000"/>
<rect x="1" y="482" width="1" height="3" fill="#000"/>
<rect x="65" y="482" width="1" height="3" fill="#000"/>
<rect x="129" y="482" width="1" height="3" fill="#000"/>
<rect x="193" y="482" width="1" height="3" fill="#000"/>
<rect x="257" y="482" width="1" height="3" fill="#000"/>
<rect x="321" y="482" width="1" height="3" fill="#000"/>
<rect x="385" y="482" width="1" height="3" fill="#000"/>
<rect x="449" y="482" width="1" height="3" fill="#000"/>
<rect x="513" y="482" width="1" height="3" fill="#000"/>
<rect x="577" y="482" width="1" height="3" fill="#000"/>
<rect x="641" y="482" width="1" height="3" fill="#000"/>
<rect x="661" y="196" width="36" height="11" fill="#000"/>
<polygon points="4,7 11,7 7.5,11" fill="#000"/>
</g>
<text x="665" y="11" textLength="28" lengthAdjust="spacing">68.730</text>
<text x="665" y="44" textLength="28" lengthAdjust="spacing">65.760</text>
<text x="665" y="77" textLength="28" lengthAdjust="spacing">62.700</text>
<text x="665" y="110" textLength="28" lengthAdjust="spacing">59.730</text>
<text x="665" y="143" textLength="28" lengthAdjust="spacing">56.760</text>
<text x="665" y="176" textLength="28" lengthAdjust="spacing">53.700</text>
<text x="665" y="209" textLength="28" lengthAdjust="spacing">50.730</text>
<text x="665" y="242" textLength="28" lengthAdjust="spacing">47.670</text>
<text x="665" y="275" textLength="28" lengthAdjust="spacing">44.700</text>
<text x="665" y="308" textLength="28" lengthAdjust="spacing">41.730</text>
<rect x="661" y="196" width="36" height="11" fill="#000"/>
<text x="665" y="205" textLength="27.5" lengthAdjust="spacing" style="fill:#fff;stroke:#fff">51.120</text>
<text x="663" y="320" textLength="27.5" lengthAdjust="spacing">4.8219</text>
<text x="663" y="344" textLength="18" lengthAdjust="spacing">0.00</text>
<text x="663" y="391" textLength="31.2" lengthAdjust="spacing">-8.9545</text>
<text x="663" y="407" textLength="15.4" lengthAdjust="spacing">100</text>
<text x="661.8" y="418" textLength="10.3" lengthAdjust="spacing">80</text>
<text x="661.8" y="468" textLength="10.3" lengthAdjust="spacing">20</text>
<text x="663" y="478">0</text>
<text x="5.0" y="322" textLength="61.3" lengthAdjust="spacing">MACD(5,34,4)</text>
<text x="69.3" y="322" textLength="30.5" lengthAdjust="spacing">-5.0961</text>
<text x="102.8" y="322" textLength="31.3" lengthAdjust="spacing">-4.8646</text>
<text x="5.0" y="409" textLength="50.8" lengthAdjust="spacing">Stoch(5,3,3)</text>
<text x="57.7" y="409" textLength="33.3" lengthAdjust="spacing">26.6129</text>
<text x="94.2" y="409" textLength="33" lengthAdjust="spacing">47.3427</text>
<text x="0.5" y="494" textLength="50.300000000000004" lengthAdjust="spacing">29 Oct 2018</text>
<text x="64.5" y="494" textLength="53.1" lengthAdjust="spacing">20 Nov 2018</text>
<text x="128.5" y="494" textLength="50.4" lengthAdjust="spacing">12 Dec 2018</text>
<text x="192.5" y="494" textLength="44.5" lengthAdjust="spacing">7 Jan 2019</text>
<text x="256.5" y="494" textLength="49.9" lengthAdjust="spacing">29 Jan 2019</text>
<text x="320.5" y="494" textLength="52.0" lengthAdjust="spacing">20 Feb 2019</text>
<text x="384.5" y="494" textLength="51.300000000000004" lengthAdjust="spacing">14 Mar 2019</text>
<text x="448.5" y="494" textLength="45.1" lengthAdjust="spacing">5 Apr 2019</text>
<text x="512.5" y="494" textLength="50.9" lengthAdjust="spacing">30 Apr 2019</text>
<text x="576.5" y="494" textLength="54.4" lengthAdjust="spacing">22 May 2019</text>
<text x="640.5" y="494" textLength="49.6" lengthAdjust="spacing">13 Jun 2019</text>
</svg></body></html>
